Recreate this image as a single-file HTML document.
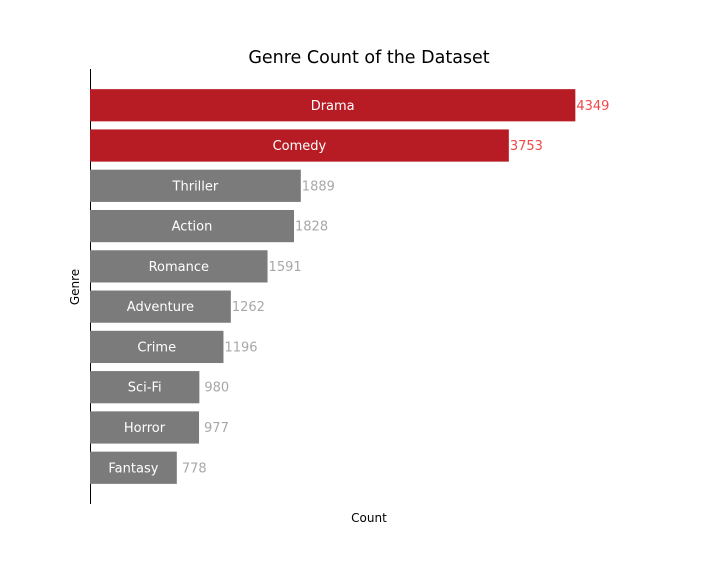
<!DOCTYPE html>
<html><head><meta charset="utf-8"><style>
body{margin:0;background:#fff;}
svg{display:block;font-family:"DejaVu Sans","Liberation Sans",sans-serif;}
</style></head><body>
<svg id="chart" width="720" height="576">
<rect width="720" height="576" fill="#fff"/>
<text x="369" y="63" font-size="17.5" text-anchor="middle" fill="#000">Genre Count of the Dataset</text>
<line x1="90.5" y1="69" x2="90.5" y2="504" stroke="#000" stroke-width="1"/>
<text x="79" y="287" font-size="12" text-anchor="middle" transform="rotate(-90 79 287)" fill="#000">Genre</text>
<text x="369" y="522" font-size="12" text-anchor="middle" fill="#000">Count</text>
<g id="bars"></g>
</svg>
<script>
const genres = ["Drama","Comedy","Thriller","Action","Romance","Adventure","Crime","Sci-Fi","Horror","Fantasy"];
const counts = [4349,3753,1889,1828,1591,1262,1196,980,977,778];
const highlighted = ["Drama","Comedy"];
const xMax = 5000;
const pL = 90, pR = 648, pT = 69, pB = 504;
const yMin = -0.9, yMax = 9.9;
function xs(v){return pL + v/xMax*(pR-pL);}
function ys(i){return pT + (i - yMin)/(yMax - yMin)*(pB-pT);}
const g = document.getElementById('bars');
const NS = 'http://www.w3.org/2000/svg';
const bh = 0.8*(pB-pT)/(yMax-yMin);
genres.forEach((name,i)=>{
  const hi = highlighted.includes(name);
  const cy = ys(i);
  const r = document.createElementNS(NS,'rect');
  r.setAttribute('x',pL);
  r.setAttribute('y',cy-bh/2);
  r.setAttribute('width',xs(counts[i])-pL);
  r.setAttribute('height',bh);
  r.setAttribute('fill',hi?'#b71c24':'#7a7b7a');
  
  
  g.appendChild(r);
  const t = document.createElementNS(NS,'text');
  t.setAttribute('x',(pL+xs(counts[i]))/2);
  t.setAttribute('y',cy+4.5);
  t.setAttribute('text-anchor','middle');
  t.setAttribute('font-size','13');
  t.setAttribute('fill','#fff');
  t.textContent = name;
  
  
  g.appendChild(t);
  const v = document.createElementNS(NS,'text');
  v.setAttribute('x',xs(counts[i]) + (counts[i]<1000?5:1));
  v.setAttribute('y',cy+4.5);
  v.setAttribute('font-size','13');
  v.setAttribute('fill',hi?'#f04848':'#a8a8a8');
  v.textContent = counts[i];
  
  
  g.appendChild(v);
});
</script>
</body></html>
